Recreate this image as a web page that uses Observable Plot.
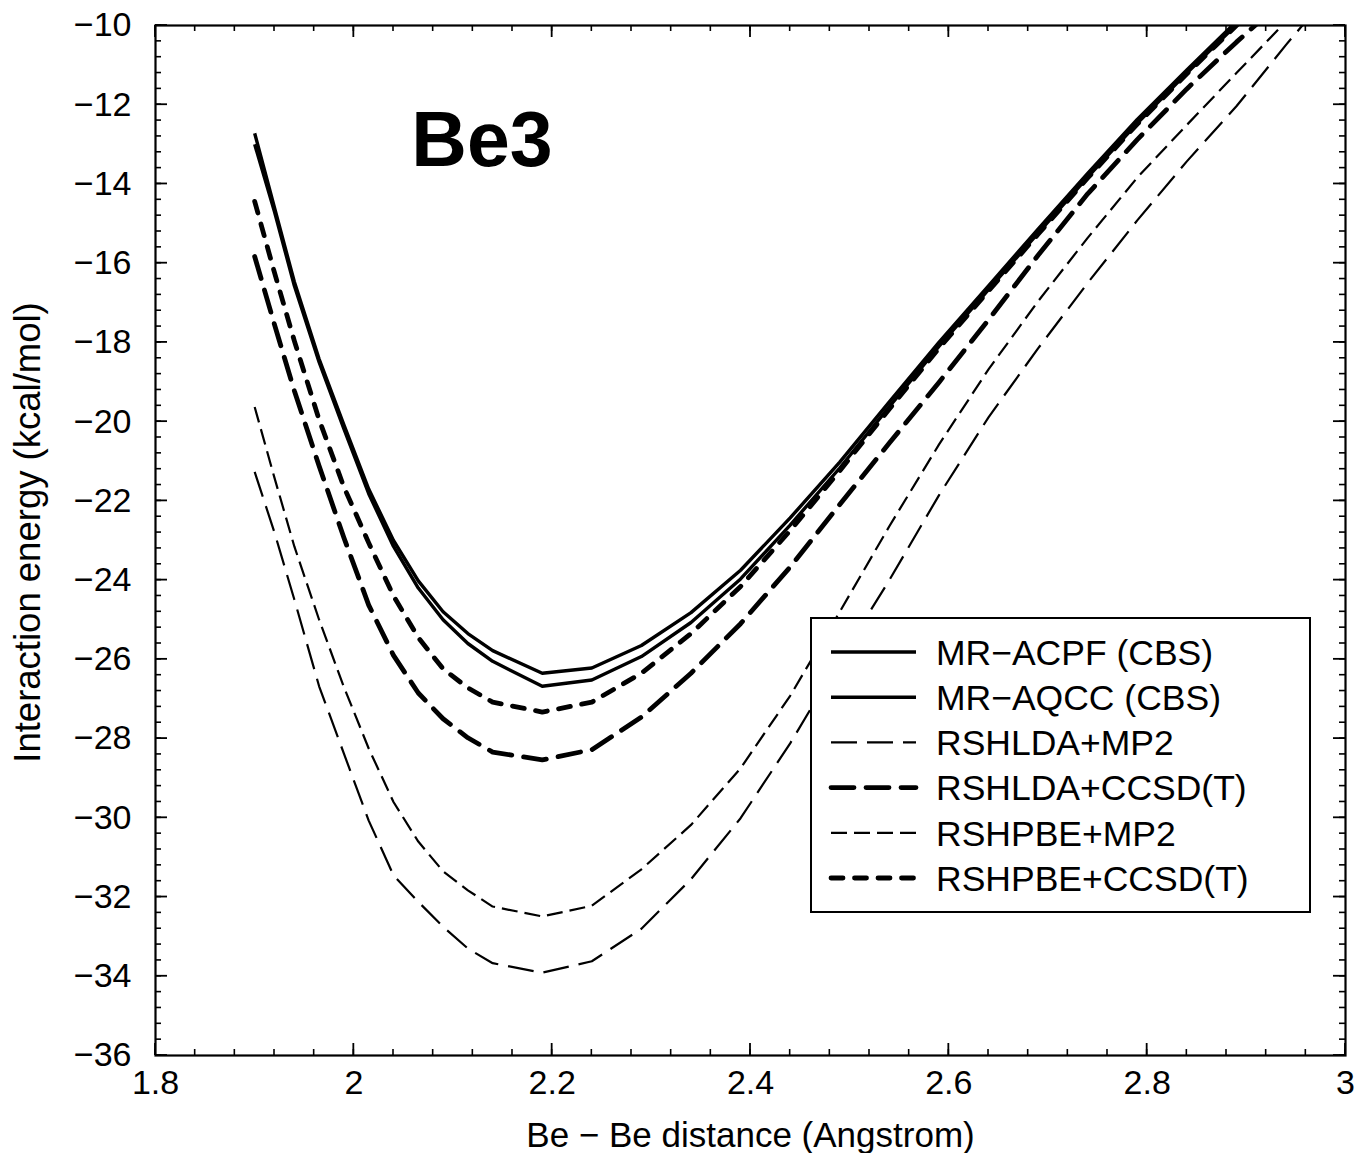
<!DOCTYPE html>
<html>
<head>
<meta charset="utf-8">
<script src="https://cdn.jsdelivr.net/npm/d3@7"></script>
<script src="https://cdn.jsdelivr.net/npm/@observablehq/plot@0.6"></script>
<style>
  html, body { margin: 0; padding: 0; background: #fff; }
  #chart svg { font-family: "Liberation Sans", Arial, Helvetica, sans-serif; background: #fff; }
</style>
</head>
<body>
<div id="chart"></div>
<script>
// Be-Be distance grid (Angstrom)
const distance = [1.90, 1.92, 1.94, 1.965, 1.99, 2.015, 2.04, 2.065, 2.09, 2.115, 2.14, 2.19, 2.24, 2.29,
                  2.34, 2.39, 2.44, 2.49, 2.54, 2.59, 2.64, 2.69, 2.74, 2.79, 2.84, 2.89, 2.94, 2.99];

// Interaction energies (kcal/mol)
const mrAcpf    = [-12.72, -14.60, -16.47, -18.42, -20.08, -21.70, -23.00, -24.02, -24.80, -25.35, -25.78, -26.35, -26.22, -25.65,
                   -24.82, -23.75, -22.43, -21.02, -19.50, -18.00, -16.57, -15.14, -13.73, -12.37, -11.12, -9.90, -8.70, -7.60];
const mrAqcc    = [-13.00, -14.70, -16.57, -18.50, -20.18, -21.82, -23.15, -24.20, -25.00, -25.60, -26.05, -26.68, -26.52, -25.93,
                   -25.07, -23.97, -22.61, -21.17, -19.62, -18.10, -16.67, -15.24, -13.83, -12.47, -11.20, -9.98, -8.78, -7.68];
const rshldaMp2 = [-21.27, -22.80, -24.49, -26.68, -28.38, -30.07, -31.45, -32.12, -32.75, -33.30, -33.67, -33.91, -33.62, -32.80,
                   -31.55, -30.01, -28.12, -26.02, -24.00, -21.86, -19.89, -18.15, -16.50, -14.92, -13.43, -12.04, -10.49, -9.00];
const rshldaCc  = [-15.83, -17.55, -19.22, -21.12, -22.93, -24.63, -25.90, -26.85, -27.50, -27.98, -28.34, -28.54, -28.28, -27.46,
                   -26.35, -25.10, -23.67, -22.09, -20.54, -19.01, -17.43, -15.80, -14.25, -12.88, -11.60, -10.42, -9.30, -8.20];
const rshpbeMp2 = [-19.63, -21.42, -23.15, -25.00, -26.70, -28.25, -29.60, -30.60, -31.35, -31.83, -32.24, -32.49, -32.22, -31.30,
                   -30.18, -28.75, -26.92, -24.80, -22.64, -20.58, -18.68, -16.96, -15.36, -13.84, -12.51, -11.20, -9.90, -8.60];
const rshpbeCc  = [-14.44, -16.24, -17.96, -19.95, -21.65, -23.06, -24.40, -25.45, -26.24, -26.72, -27.08, -27.33, -27.08, -26.35,
                   -25.35, -24.16, -22.75, -21.24, -19.68, -18.15, -16.70, -15.27, -13.85, -12.49, -11.22, -10.00, -8.80, -7.70];

const seriesNames = ["MR\u2212ACPF (CBS)", "MR\u2212AQCC (CBS)", "RSHLDA+MP2", "RSHLDA+CCSD(T)", "RSHPBE+MP2", "RSHPBE+CCSD(T)"];
const seriesValues = [mrAcpf, mrAqcc, rshldaMp2, rshldaCc, rshpbeMp2, rshpbeCc];

// Axis ticks
const xMajor = [1.8, 2.0, 2.2, 2.4, 2.6, 2.8, 3.0];
const xMinor = d3.range(0, 31).map(i => +(1.8 + i * 0.04).toFixed(2));
const yMajor = [-36, -34, -32, -30, -28, -26, -24, -22, -20, -18, -16, -14, -12, -10];
const yMinor = d3.range(0, 66).map(i => +(-36 + i * 0.4).toFixed(1));

// Annotation
const annotation = [{x: 2.058, y: -12.92, text: "Be3"}];

// Line styles (per series)
const styles = [
  {strokeWidth: 3.4, dash: null,      cap: "butt"},
  {strokeWidth: 3.4, dash: null,      cap: "butt"},
  {strokeWidth: 2.2, dash: "26,10",   cap: "butt"},
  {strokeWidth: 4.8, dash: "23,12",   cap: "round"},
  {strokeWidth: 2.2, dash: "16,7",    cap: "butt"},
  {strokeWidth: 4.8, dash: "12,11.5", cap: "round"}
];

const W = 1356, H = 1153;
const mL = 155, mR = 11, mT = 25, mB = 98;
const xDom = [1.8, 3.0], yDom = [-36, -10];

const fmt = d => d < 0 ? "\u2212" + Math.abs(d) : String(d);

const lineMarks = seriesValues.map((vals, k) => {
  const data = distance.map((x, i) => ({x, y: vals[i]}));
  const s = styles[k];
  const opts = {x: "x", y: "y", stroke: "black", strokeWidth: s.strokeWidth, strokeLinecap: s.cap,
                strokeLinejoin: "round", clip: true};
  if (s.dash) opts.strokeDasharray = s.dash;
  return Plot.line(data, opts);
});

const chart = Plot.plot({
  width: W, height: H,
  marginLeft: mL, marginRight: mR, marginTop: mT, marginBottom: mB,
  style: {fontFamily: "'Liberation Sans', Arial, sans-serif", background: "white"},
  x: {domain: xDom},
  y: {domain: yDom},
  marks: [
    ...lineMarks,
    Plot.frame({stroke: "black", strokeWidth: 2.2}),
    Plot.axisX({ticks: xMajor, tickSize: 0, tickPadding: 14, tickFormat: fmt, fontSize: 34, label: null}),
    Plot.axisY({ticks: yMajor, tickSize: 0, tickPadding: 24, tickFormat: fmt, fontSize: 34, label: null}),
    Plot.text(["Be \u2212 Be distance (Angstrom)"], {frameAnchor: "bottom", lineAnchor: "middle", dy: 80, fontSize: 35, fill: "black"}),
    Plot.text(["Interaction energy (kcal/mol)"], {frameAnchor: "left", textAnchor: "middle", lineAnchor: "middle", dx: -127, dy: -8, rotate: -90, fontSize: 36.5, fill: "black"}),
    Plot.text(annotation, {x: "x", y: "y", text: "text", textAnchor: "start", fontSize: 77, fontWeight: "bold", fill: "black"})
  ]
});

document.getElementById("chart").appendChild(chart);

const svg = d3.select(chart);
const sx = chart.scale("x"), sy = chart.scale("y");
const X0 = sx.apply(xDom[0]), X1 = sx.apply(xDom[1]);
const Y0 = sy.apply(yDom[0]), Y1 = sy.apply(yDom[1]);

// Inward ticks on all four sides, positioned through Plot's scales
const tg = svg.append("g").attr("class", "inner-ticks").attr("stroke", "black");
const addX = (vals, len, w) => vals.forEach(v => {
  const px = sx.apply(v);
  tg.append("line").attr("x1", px).attr("x2", px).attr("y1", Y0).attr("y2", Y0 - len).attr("stroke-width", w);
  tg.append("line").attr("x1", px).attr("x2", px).attr("y1", Y1).attr("y2", Y1 + len).attr("stroke-width", w);
});
const addY = (vals, len, w) => vals.forEach(v => {
  const py = sy.apply(v);
  tg.append("line").attr("y1", py).attr("y2", py).attr("x1", X0).attr("x2", X0 + len).attr("stroke-width", w);
  tg.append("line").attr("y1", py).attr("y2", py).attr("x1", X1).attr("x2", X1 - len).attr("stroke-width", w);
});
addX(xMinor, 6, 1.6); addX(xMajor, 12, 1.8);
addY(yMinor, 6, 1.6); addY(yMajor, 12, 1.8);

// Legend box drawn inside the plot area
const lg = svg.append("g").attr("class", "legend").attr("text-anchor", "start");
const box = {x0: 811, y0: 618, x1: 1310, y1: 912};
lg.append("rect").attr("x", box.x0).attr("y", box.y0)
  .attr("width", box.x1 - box.x0).attr("height", box.y1 - box.y0)
  .attr("fill", "white").attr("stroke", "black").attr("stroke-width", 2);
const rowY0 = 652, rowStep = 45.2;
seriesNames.forEach((name, k) => {
  const y = rowY0 + k * rowStep;
  const s = styles[k];
  const ln = lg.append("line").attr("x1", 831).attr("x2", 916).attr("y1", y).attr("y2", y)
    .attr("stroke", "black").attr("stroke-width", s.strokeWidth).attr("stroke-linecap", s.cap);
  if (s.dash) ln.attr("stroke-dasharray", s.dash);
  lg.append("text").attr("x", 936).attr("y", y).attr("dy", "0.36em")
    .attr("text-anchor", "start").attr("font-size", 35.5).attr("fill", "black").text(name);
});
</script>
</body>
</html>
